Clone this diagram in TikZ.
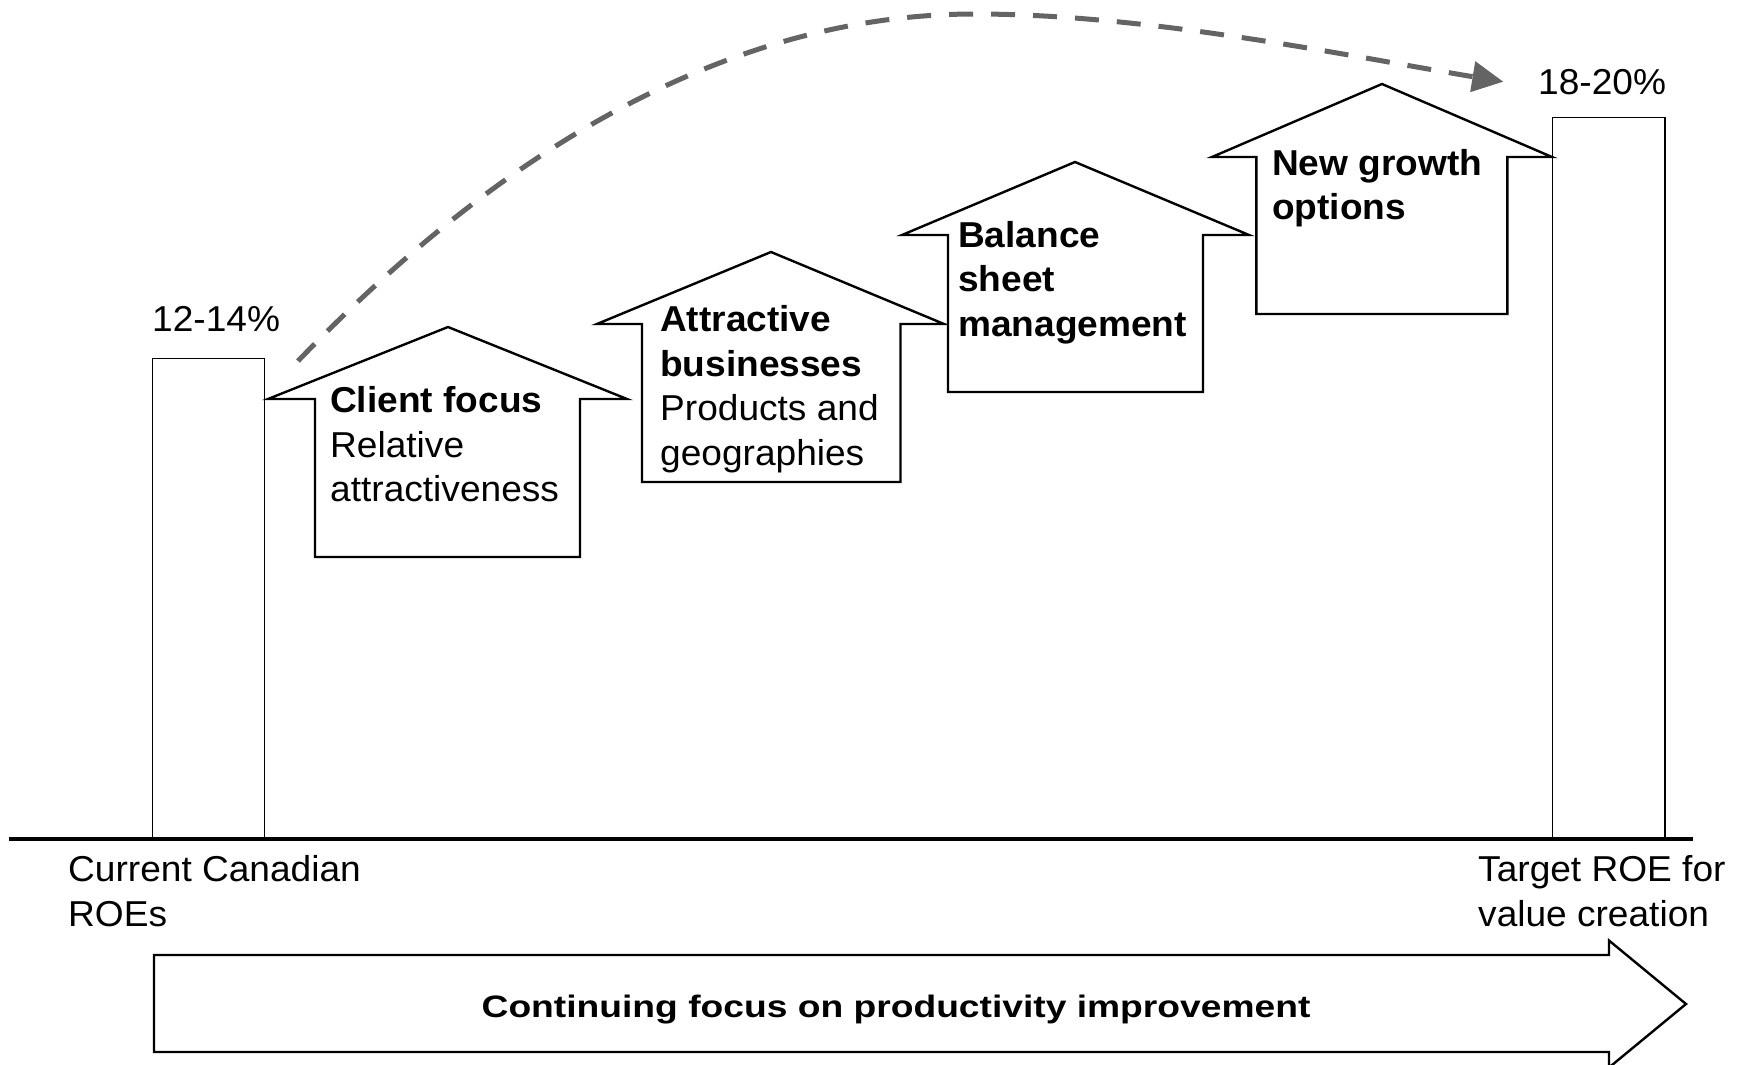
\documentclass[tikz,border=0pt]{standalone}
\usepackage{fontspec}
\setmainfont{Liberation Sans}[FakeStretch=1.03]
\usetikzlibrary{arrows.meta}
\definecolor{dashgray}{RGB}{100,100,100}
\newcommand\mylines[1]{\begin{tabular}[t]{@{}l@{}}#1\end{tabular}}
\begin{document}
\begin{tikzpicture}[x=1pt,y=-1pt,
  house/.style={draw=black, line width=2.4pt, fill=white, line join=miter},
  bar/.style={draw=black, line width=1.5pt, fill=white},
  lbl/.style={anchor=base west, inner sep=0pt, font=\fontsize{36}{44.5}\selectfont},
  flow/.style={draw=dashgray, line width=5pt, dash pattern=on 24pt off 18pt, -{Triangle[length=31pt,width=30pt]}}
]
\fill[white] (0,0) rectangle (1746,1065);
\useasboundingbox (0,0) rectangle (1746,1065);

% bars
\draw[bar] (152.5,838) -- (152.5,358.7) -- (264.5,358.7) -- (264.5,838);
\draw[bar] (1552.4,838) -- (1552.4,117.3) -- (1664.8,117.3) -- (1664.8,838);
% baseline
\draw[line width=4pt] (9,838.5) -- (1693,838.5);

% houses
\draw[house] (315,557) -- (315,399) -- (268,399) -- (448,327) -- (627,399) -- (580,399) -- (580,557) -- cycle;
\draw[house] (642,482) -- (642,324) -- (597,324) -- (771,252) -- (944,324) -- (900.5,324) -- (900.5,482) -- cycle;
\draw[house] (948,392) -- (948,235) -- (902,235) -- (1075,162) -- (1249,235) -- (1203,235) -- (1203,392) -- cycle;
\draw[house] (1256.4,314) -- (1256.4,157) -- (1212,157) -- (1382,84) -- (1552,157) -- (1507.4,157) -- (1507.4,314) -- cycle;

% bottom arrow
\draw[house] (154,955) -- (1609,955) -- (1609,940.5) -- (1686,1004) -- (1609,1067.5) -- (1609,1052) -- (154,1052) -- cycle;

% texts
\node[lbl] (p1) at (152,331) {12-14\%};
\node[lbl] (p2) at (1538,95) {18-20\%};
\node[lbl] (t1) at (330,412.7) {\mylines{\bfseries Client focus\\Relative\\attractiveness}};
\node[lbl] (t2) at (660,331.7) {\mylines{\bfseries Attractive\\\bfseries businesses\\Products and\\geographies}};
\node[lbl] (t3) at (958,247.3) {\mylines{\bfseries Balance\\\bfseries sheet\\\bfseries management}};
\node[lbl] (t4) at (1272,175) {\mylines{\bfseries New growth\\\bfseries options}};
\node[lbl] (cur) at (68,881.7) {\mylines{Current Canadian\\ROEs}};
\node[lbl] (tgt) at (1478,881.7) {\mylines{Target ROE for\\value creation}};
\node[anchor=base, inner sep=0pt, font=\fontsize{31}{36}\selectfont\bfseries] (prod) at (896,1017) {\scalebox{1.165}[1]{Continuing focus on productivity improvement}};

% dashed flow arrow
\coordinate (flowstart) at (298,361);
\coordinate (flowpeak) at (975,14);
\coordinate (flowend) at (1503.3,81.7);
\draw[flow] (flowstart) .. controls (437,217) and (675,14) .. (flowpeak) .. controls (1150,14) and (1353,57) .. (flowend);
\end{tikzpicture}
\end{document}
